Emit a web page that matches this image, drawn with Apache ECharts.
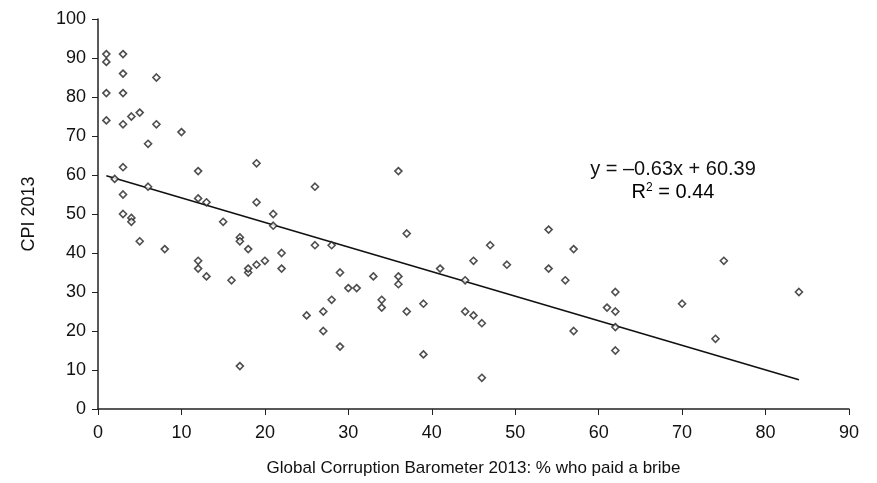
<!DOCTYPE html>
<html>
<head>
<meta charset="utf-8">
<script src="https://cdn.jsdelivr.net/npm/echarts@6/dist/echarts.min.js"></script>
<style>
  html, body { margin: 0; padding: 0; background: #fff; }
  #chart { width: 877px; height: 483px; }
</style>
</head>
<body>
<div id="chart"></div>
<script>
// % who paid a bribe (GCB 2013)
var bribeX = [
  1, 3, 1, 3, 7, 1, 3, 1, 3, 4, 5, 7, 10, 6,
  3, 19, 12, 2, 6, 3, 12, 13, 19, 21, 21, 3, 4, 4, 15, 5, 8,
  17, 17, 18, 22, 12, 12, 13, 16, 18, 18, 19, 20, 22, 17,
  26, 36, 37, 26, 28, 29, 30, 31, 33, 36, 36, 41, 45, 44,
  28, 25, 27, 27, 29, 34, 34, 37, 39, 39, 44, 45, 46, 46,
  54, 47, 49, 57, 54, 56, 62, 61, 62, 62, 57, 62,
  75, 84, 70, 74
];
// CPI 2013
var cpiY = [
  91, 91, 89, 86, 85, 81, 81, 74, 73, 75, 76, 73, 71, 68,
  62, 63, 61, 59, 57, 55, 54, 53, 53, 50, 47, 50, 49, 48, 48, 43, 41,
  44, 43, 41, 40, 38, 36, 34, 33, 35, 36, 37, 38, 36, 11,
  57, 61, 45, 42, 42, 35, 31, 31, 34, 34, 32, 36, 38, 33,
  28, 24, 25, 20, 16, 28, 26, 25, 27, 14, 25, 24, 22, 8,
  46, 42, 37, 41, 36, 33, 30, 26, 25, 21, 20, 15,
  38, 30, 27, 18
];
// linear trend line (y = -0.63x + 60.39)
var trendEnds = [[1, 59.8], [84, 7.5]];
var xTicks = [0, 10, 20, 30, 40, 50, 60, 70, 80, 90];
var yTicks = [0, 10, 20, 30, 40, 50, 60, 70, 80, 90, 100];

var points = bribeX.map(function (x, i) { return [x, cpiY[i]]; });

var chart = echarts.init(document.getElementById('chart'));
var font = 'Liberation Sans, Arial, sans-serif';
chart.setOption({
  animation: false,
  grid: { left: 98, right: 28, top: 19, bottom: 74 },
  xAxis: {
    type: 'value',
    min: xTicks[0], max: xTicks[xTicks.length - 1], interval: 10,
    name: 'Global Corruption Barometer 2013: % who paid a bribe',
    nameLocation: 'middle', nameGap: 51,
    nameTextStyle: { color: '#111', fontSize: 17, fontFamily: font },
    axisLine: { lineStyle: { color: '#222', width: 1.5 } },
    axisTick: { show: true, length: 6, lineStyle: { color: '#222' } },
    axisLabel: { color: '#111', fontSize: 18, fontFamily: font, margin: 15 },
    splitLine: { show: false }
  },
  yAxis: {
    type: 'value',
    min: yTicks[0], max: yTicks[yTicks.length - 1], interval: 10,
    name: 'CPI 2013',
    nameLocation: 'middle', nameGap: 60, nameRotate: 90,
    nameTextStyle: { color: '#111', fontSize: 18, fontFamily: font },
    axisLine: { show: true, lineStyle: { color: '#222', width: 1.5 } },
    axisTick: { show: true, length: 6, lineStyle: { color: '#222' } },
    axisLabel: { color: '#111', fontSize: 18, fontFamily: font, margin: 12 },
    splitLine: { show: false }
  },
  series: [
    {
      type: 'line',
      data: trendEnds,
      symbol: 'none',
      lineStyle: { color: '#111', width: 1.6 },
      z: 1
    },
    {
      type: 'scatter',
      data: points,
      symbol: 'diamond',
      symbolSize: 7,
      itemStyle: { color: '#fff', borderColor: '#222', borderWidth: 1.6 },
      z: 2
    }
  ],
  graphic: [
    {
      type: 'text', x: 673, y: 169,
      style: {
        text: 'y = \u20130.63x + 60.39', fill: '#111', fontSize: 20, fontFamily: font,
        align: 'center', verticalAlign: 'middle'
      }
    },
    {
      type: 'text', x: 673, y: 192,
      style: {
        text: '{a|R}{s|2}{a| = 0.44}',
        align: 'center', verticalAlign: 'middle',
        rich: {
          a: { fontSize: 20, fontFamily: font, color: '#111' },
          s: { fontSize: 12, fontFamily: font, color: '#111', verticalAlign: 'top', padding: [0, 0, 9, 0] }
        }
      }
    }
  ]
});
</script>
</body>
</html>
